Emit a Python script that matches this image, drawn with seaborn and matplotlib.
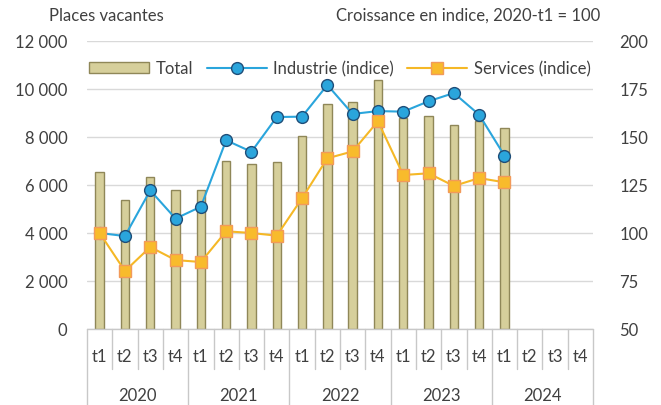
import numpy as np
import pandas as pd
import matplotlib
matplotlib.use("Agg")
import matplotlib.pyplot as plt
import matplotlib.transforms as mtransforms
from matplotlib.patches import Patch
from matplotlib.lines import Line2D
import seaborn as sns

# Données
annees = ["2020", "2021", "2022", "2023", "2024"]
trimestres = ["t1", "t2", "t3", "t4"]
total = [6530, 5390, 6320, 5780,
         5780, 6990, 6880, 6940,
         8060, 9360, 9460, 10380,
         8780, 8860, 8510, 8670,
         8380]
industrie = [100, 98.4, 122.2, 107.5,
             113.7, 148.3, 142.3, 160.4,
             160.6, 177.1, 162.0, 163.5,
             163.2, 168.6, 172.9, 161.6,
             140.3]
services = [100, 80.2, 92.7, 85.9,
            84.9, 100.9, 100, 98.6,
            118.1, 138.9, 142.5, 158.2,
            130.2, 131.1, 124.5, 128.6,
            126.4]

categories = [f"{a}-{t}" for a in annees for t in trimestres]
df = pd.DataFrame({"periode": categories[:len(total)], "total": total,
                   "industrie": industrie, "services": services})
df["pos"] = np.arange(len(df))

sns.set_theme(style="white")
plt.rcParams["font.family"] = ["Lato", "DejaVu Sans"]
txt = "#404040"
grid_c = "#d9d9d9"
ms = 8.5

fig = plt.figure(figsize=(6.61, 4.06), dpi=100)
ax = fig.add_axes([87 / 661, 76 / 406, 506 / 661, 288 / 406])

# Barres : total des places vacantes
sns.barplot(data=df, x="periode", y="total", order=categories, ax=ax,
            color="#d6cf9b", edgecolor="#8f8758", linewidth=1,
            width=0.33, saturation=1, zorder=2)
ax.set_ylim(0, 12000)
ax.set_xlim(-0.5, len(categories) - 0.5)
ax.set_yticks(np.arange(0, 12001, 2000))
ax.set_yticklabels([f"{v:,.0f}".replace(",", " ") for v in np.arange(0, 12001, 2000)])
ax.yaxis.grid(True, color=grid_c, linewidth=1, zorder=0)
ax.set_axisbelow(True)
ax.set_xlabel("")
ax.set_ylabel("")
ax.set_xticks([])
ax.tick_params(axis="y", length=0, pad=14, labelsize=12, labelcolor=txt)
for s in ax.spines.values():
    s.set_visible(False)

# Lignes : indices
ax2 = ax.twinx()
sns.lineplot(data=df, x="pos", y="industrie", ax=ax2, color="#2aa5dc",
             linewidth=1.5, marker="o", markersize=ms,
             markerfacecolor="#2aa5dc", markeredgecolor="#1f4e79",
             markeredgewidth=1)
sns.lineplot(data=df, x="pos", y="services", ax=ax2, color="#f5b826",
             linewidth=1.5, marker="s", markersize=ms - 0.5,
             markerfacecolor="#f8bb2c", markeredgecolor="#f29a5a",
             markeredgewidth=1)
ax2.set_ylim(50, 200)
ax2.set_yticks(np.arange(50, 201, 25))
ax2.set_xlim(-0.5, len(categories) - 0.5)
ax2.set_xlabel("")
ax2.set_ylabel("")
ax2.tick_params(axis="y", length=0, pad=19, labelsize=12, labelcolor=txt)
for s in ax2.spines.values():
    s.set_visible(False)

# Axe des catégories à deux niveaux
trans = mtransforms.blended_transform_factory(ax.transData, ax.transAxes)
sep_c = "#c8c8c8"
ax.plot([-0.5, len(categories) - 0.5], [0, 0], transform=trans,
        color=sep_c, linewidth=1, clip_on=False)
for i in range(len(categories) + 1):
    bas = -0.265 if i % 4 == 0 else -0.14
    ax.plot([i - 0.5, i - 0.5], [0, bas], transform=trans, color=sep_c,
            linewidth=1, clip_on=False)
for i, c in enumerate(categories):
    ax.text(i, -0.095, c.split("-")[1], transform=trans, ha="center",
            va="center", fontsize=12, color=txt)
for j, a in enumerate(annees):
    ax.text(j * 4 + 1.5, -0.23, a, transform=trans, ha="center",
            va="center", fontsize=12, color=txt)

# Légende
handles = [Patch(facecolor="#d6cf9b", edgecolor="#8f8758", label="Total"),
           Line2D([], [], color="#2aa5dc", linewidth=1.5, marker="o",
                  markersize=ms, markerfacecolor="#2aa5dc",
                  markeredgecolor="#1f4e79", label="Industrie (indice)"),
           Line2D([], [], color="#f5b826", linewidth=1.5, marker="s",
                  markersize=ms - 0.5, markerfacecolor="#f8bb2c",
                  markeredgecolor="#f29a5a", label="Services (indice)")]
ax2.legend(handles=handles, loc="upper center", bbox_to_anchor=(0.5, 0.985),
           ncol=3, frameon=False, fontsize=12, handlelength=3.6,
           columnspacing=0.8, handletextpad=0.4, labelcolor=txt)

fig.text(106 / 661, 1 - 16 / 406, "Places vacantes", ha="center", va="center",
         fontsize=12, color=txt)
fig.text(600 / 661, 1 - 16 / 406, "Croissance en indice, 2020-t1 = 100",
         ha="right", va="center", fontsize=12, color=txt)

fig.savefig("out.png", dpi=100)
